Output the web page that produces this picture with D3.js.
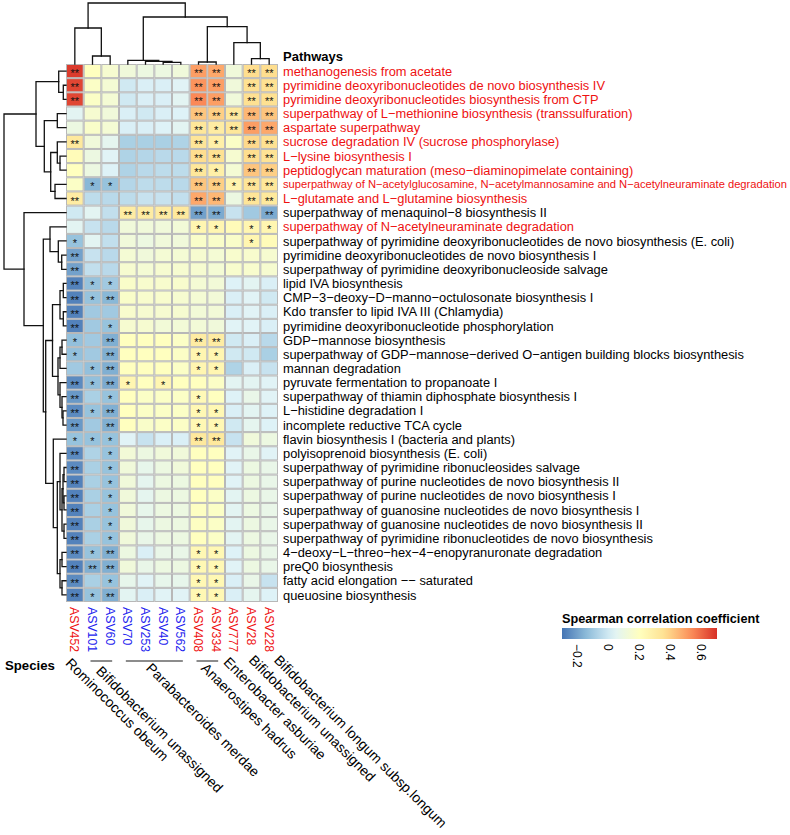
<!DOCTYPE html>
<html><head><meta charset="utf-8">
<script src="https://cdn.jsdelivr.net/npm/d3@7"></script>
<style>body{margin:0;background:#fff} text{font-family:"Liberation Sans",Arial,Helvetica,sans-serif}</style>
</head><body><svg id="chart" width="790" height="835"></svg>
<script>
// ---------------- DATA ----------------
const columns = ["ASV452","ASV101","ASV60","ASV70","ASV253","ASV40","ASV562","ASV408","ASV334","ASV777","ASV28","ASV228"];
const columnPositive = [true,false,false,false,false,false,false,true,true,true,true,true];

const pathways = [
  "methanogenesis from acetate",
  "pyrimidine deoxyribonucleotides de novo biosynthesis IV",
  "pyrimidine deoxyribonucleotides biosynthesis from CTP",
  "superpathway of L\u2212methionine biosynthesis (transsulfuration)",
  "aspartate superpathway",
  "sucrose degradation IV (sucrose phosphorylase)",
  "L\u2212lysine biosynthesis I",
  "peptidoglycan maturation (meso\u2212diaminopimelate containing)",
  "superpathway of N\u2212acetylglucosamine, N\u2212acetylmannosamine and N\u2212acetylneuraminate degradation",
  "L\u2212glutamate and L\u2212glutamine biosynthesis",
  "superpathway of menaquinol\u22128 biosynthesis II",
  "superpathway of N\u2212acetylneuraminate degradation",
  "superpathway of pyrimidine deoxyribonucleotides de novo biosynthesis (E. coli)",
  "pyrimidine deoxyribonucleotides de novo biosynthesis I",
  "superpathway of pyrimidine deoxyribonucleoside salvage",
  "lipid IVA biosynthesis",
  "CMP\u22123\u2212deoxy\u2212D\u2212manno\u2212octulosonate biosynthesis I",
  "Kdo transfer to lipid IVA III (Chlamydia)",
  "pyrimidine deoxyribonucleotide phosphorylation",
  "GDP\u2212mannose biosynthesis",
  "superpathway of GDP\u2212mannose\u2212derived O\u2212antigen building blocks biosynthesis",
  "mannan degradation",
  "pyruvate fermentation to propanoate I",
  "superpathway of thiamin diphosphate biosynthesis I",
  "L\u2212histidine degradation I",
  "incomplete reductive TCA cycle",
  "flavin biosynthesis I (bacteria and plants)",
  "polyisoprenoid biosynthesis (E. coli)",
  "superpathway of pyrimidine ribonucleosides salvage",
  "superpathway of purine nucleotides de novo biosynthesis II",
  "superpathway of purine nucleotides de novo biosynthesis I",
  "superpathway of guanosine nucleotides de novo biosynthesis I",
  "superpathway of guanosine nucleotides de novo biosynthesis II",
  "superpathway of pyrimidine ribonucleotides de novo biosynthesis",
  "4\u2212deoxy\u2212L\u2212threo\u2212hex\u22124\u2212enopyranuronate degradation",
  "preQ0 biosynthesis",
  "fatty acid elongation \u2212\u2212 saturated",
  "queuosine biosynthesis"
];
const pathwayHighlighted = [true,true,true,true,true,true,true,true,true,true,false,true,
  false,false,false,false,false,false,false,false,false,false,false,false,false,false,false,
  false,false,false,false,false,false,false,false,false,false,false];

// Spearman correlation coefficients (rows = pathways, cols = ASVs)
const rho = [
  [0.68,0.20,0.15,0.12,0.10,0.10,0.12,0.50,0.48,0.12,0.37,0.37],
  [0.66,0.18,0.14,0.00,0.02,0.02,0.04,0.52,0.50,0.12,0.36,0.36],
  [0.66,0.18,0.14,0.00,0.02,0.02,0.05,0.54,0.50,0.12,0.36,0.36],
  [0.05,0.15,0.12,0.02,0.00,0.02,0.03,0.42,0.40,0.32,0.45,0.42],
  [0.10,0.17,0.14,0.02,0.02,0.03,0.05,0.33,0.30,0.33,0.50,0.48],
  [0.32,0.12,0.06,-0.08,-0.08,-0.08,-0.07,0.34,0.28,0.18,0.38,0.36],
  [0.22,0.10,0.04,-0.07,-0.06,-0.05,-0.05,0.37,0.36,0.15,0.37,0.35],
  [0.20,0.10,0.03,-0.07,-0.05,-0.04,-0.04,0.33,0.28,0.14,0.42,0.40],
  [0.18,-0.15,-0.12,-0.06,-0.04,-0.04,-0.05,0.42,0.40,0.26,0.34,0.33],
  [0.30,-0.04,-0.05,-0.04,-0.02,-0.02,-0.03,0.48,0.45,0.10,0.34,0.32],
  [0.00,0.05,-0.03,0.30,0.30,0.30,0.32,-0.20,-0.18,-0.02,-0.10,-0.18],
  [0.05,-0.02,-0.05,0.12,0.12,0.12,0.13,0.25,0.25,0.22,0.25,0.25],
  [-0.12,0.05,-0.03,0.12,0.10,0.12,0.12,0.17,0.17,0.17,0.25,0.22],
  [-0.20,-0.02,-0.05,0.14,0.12,0.14,0.14,0.15,0.14,0.16,0.16,0.15],
  [-0.20,-0.03,-0.05,0.15,0.14,0.15,0.15,0.15,0.14,0.16,0.16,0.15],
  [-0.27,-0.12,-0.10,0.17,0.16,0.16,0.16,0.14,0.13,0.03,0.05,0.02],
  [-0.27,-0.12,-0.15,0.17,0.16,0.16,0.15,0.14,0.13,0.02,0.04,0.00],
  [-0.27,-0.10,-0.10,0.16,0.15,0.15,0.15,0.13,0.13,0.02,0.04,0.02],
  [-0.27,-0.10,-0.12,0.15,0.15,0.13,0.13,0.13,0.12,0.04,0.04,0.02],
  [-0.13,-0.10,-0.17,0.20,0.20,0.20,0.18,0.30,0.30,0.00,0.02,-0.05],
  [-0.13,-0.10,-0.17,0.20,0.20,0.20,0.18,0.25,0.25,0.00,0.00,-0.08],
  [-0.10,-0.13,-0.17,0.20,0.20,0.20,0.18,0.25,0.25,-0.07,0.02,-0.02],
  [-0.25,-0.13,-0.18,0.25,0.20,0.25,0.20,0.20,0.18,0.05,0.05,0.04],
  [-0.22,-0.08,-0.12,0.20,0.18,0.18,0.18,0.23,0.20,0.03,0.08,0.04],
  [-0.25,-0.12,-0.17,0.20,0.18,0.18,0.18,0.24,0.24,0.02,0.05,0.03],
  [-0.22,-0.10,-0.17,0.20,0.17,0.18,0.18,0.24,0.24,0.00,0.06,0.03],
  [-0.12,-0.12,-0.12,0.04,-0.02,0.02,0.02,0.32,0.32,-0.02,0.12,0.10],
  [-0.25,-0.07,-0.12,0.13,0.10,0.12,0.12,0.20,0.20,0.04,0.08,0.04],
  [-0.25,-0.08,-0.12,0.12,0.07,0.10,0.12,0.20,0.20,0.04,0.10,0.08],
  [-0.27,-0.08,-0.12,0.12,0.06,0.10,0.10,0.20,0.20,0.04,0.10,0.08],
  [-0.27,-0.08,-0.12,0.12,0.06,0.10,0.10,0.20,0.18,0.05,0.10,0.08],
  [-0.27,-0.08,-0.12,0.12,0.07,0.10,0.10,0.19,0.18,0.05,0.10,0.08],
  [-0.27,-0.08,-0.12,0.12,0.07,0.10,0.10,0.19,0.18,0.05,0.10,0.08],
  [-0.27,-0.08,-0.12,0.12,0.08,0.10,0.10,0.20,0.18,0.05,0.10,0.08],
  [-0.25,-0.12,-0.17,0.10,0.02,0.08,0.08,0.24,0.24,0.03,0.10,0.08],
  [-0.27,-0.17,-0.17,0.12,0.08,0.10,0.10,0.24,0.24,0.04,0.10,0.08],
  [-0.25,-0.08,-0.12,0.07,0.04,0.07,0.07,0.24,0.24,0.02,0.08,-0.02],
  [-0.27,-0.12,-0.17,0.05,0.02,0.04,0.04,0.24,0.24,0.02,0.06,0.03]
];

// significance level: 2 = "**", 1 = "*", 0 = none
const signif = [
  [2,0,0,0,0,0,0,2,2,0,2,2],
  [2,0,0,0,0,0,0,2,2,0,2,2],
  [2,0,0,0,0,0,0,2,2,0,2,2],
  [0,0,0,0,0,0,0,2,2,2,2,2],
  [0,0,0,0,0,0,0,2,1,2,2,2],
  [2,0,0,0,0,0,0,2,1,0,2,2],
  [0,0,0,0,0,0,0,2,2,0,2,2],
  [0,0,0,0,0,0,0,2,1,0,2,2],
  [0,1,1,0,0,0,0,2,2,1,2,2],
  [2,0,0,0,0,0,0,2,2,0,2,2],
  [0,0,0,2,2,2,2,2,2,0,0,2],
  [0,0,0,0,0,0,0,1,1,0,1,1],
  [1,0,0,0,0,0,0,0,0,0,1,0],
  [2,0,0,0,0,0,0,0,0,0,0,0],
  [2,0,0,0,0,0,0,0,0,0,0,0],
  [2,1,1,0,0,0,0,0,0,0,0,0],
  [2,1,2,0,0,0,0,0,0,0,0,0],
  [2,0,0,0,0,0,0,0,0,0,0,0],
  [2,0,1,0,0,0,0,0,0,0,0,0],
  [1,0,2,0,0,0,0,2,2,0,0,0],
  [1,0,2,0,0,0,0,1,1,0,0,0],
  [0,1,2,0,0,0,0,1,1,0,0,0],
  [2,1,2,1,0,1,0,0,0,0,0,0],
  [2,0,1,0,0,0,0,1,0,0,0,0],
  [2,1,2,0,0,0,0,1,1,0,0,0],
  [2,0,2,0,0,0,0,1,1,0,0,0],
  [1,1,1,0,0,0,0,2,2,0,0,0],
  [2,0,1,0,0,0,0,0,0,0,0,0],
  [2,0,1,0,0,0,0,0,0,0,0,0],
  [2,0,1,0,0,0,0,0,0,0,0,0],
  [2,0,1,0,0,0,0,0,0,0,0,0],
  [2,0,1,0,0,0,0,0,0,0,0,0],
  [2,0,1,0,0,0,0,0,0,0,0,0],
  [2,0,1,0,0,0,0,0,0,0,0,0],
  [2,1,2,0,0,0,0,1,1,0,0,0],
  [2,2,2,0,0,0,0,1,1,0,0,0],
  [2,0,1,0,0,0,0,1,1,0,0,0],
  [2,1,2,0,0,0,0,1,1,0,0,0]
];

const species = ["Rominococcus obeum","Bifidobacterium unassigned","Parabacteroides merdae","Anaerostipes hadrus","Enterobacter asburiae","Bifidobacterium unassigned","Bifidobacterium longum subsp.longum"];
const speciesMembers = [["ASV452"],["ASV101","ASV60"],["ASV70","ASV253","ASV40","ASV562"],["ASV408","ASV334"],["ASV777"],["ASV28"],["ASV228"]];

const legendTicks = [-0.2, 0, 0.2, 0.4, 0.6];
const legendTickLabels = ["\u22120.2","0","0.2","0.4","0.6"];
const colorDomain = [-0.3, 0.7];

// dendrograms: leaves are column names / row indices, internal nodes {h: merge height, c: [left, right]}
const colTree = {h:61, c:[
  {h:36, c:["ASV452", {h:8, c:["ASV101","ASV60"]}]},
  {h:47, c:[
    {h:3.7, c:["ASV70", {h:2.7, c:["ASV253", {h:1.7, c:["ASV40","ASV562"]}]}]},
    {h:37.3, c:[
      {h:2, c:["ASV408","ASV334"]},
      {h:21.3, c:["ASV777", {h:5.3, c:["ASV28","ASV228"]}]}
    ]}
  ]}
]};

const rowTree = {h:62, c:[
  {h:30, c:[
    {h:7.3, c:[0, {h:2.7, c:[1,2]}]},
    {h:21.7, c:[
      {h:8.7, c:[3,4]},
      {h:15.3, c:[
        {h:8.7, c:[5, {h:6, c:[6,7]}]},
        {h:11, c:[8,9]}
      ]}
    ]}
  ]},
  {h:42, c:[
    10,
    {h:22.7, c:[
      {h:16, c:[11, {h:7.7, c:[12, {h:4.3, c:[13,14]}]}]},
      {h:20.3, c:[
        {h:13.5, c:[
          {h:6, c:[{h:2.7, c:[15,16]}, {h:2.7, c:[17,18]}]},
          {h:8, c:[
            {h:6, c:[{h:4, c:[19,20]}, 21]},
            {h:6, c:[22, {h:4, c:[23, {h:3, c:[24,25]}]}]}
          ]}
        ]},
        {h:12.7, c:[
          26,
          {h:8.7, c:[
            {h:6, c:[27, {h:4, c:[{h:3, c:[{h:2, c:[28,29]}, {h:2, c:[30,31]}]}, {h:2, c:[32,33]}]}]},
            {h:6, c:[{h:4, c:[34,35]}, {h:4, c:[36,37]}]}
          ]}
        ]}
      ]}
    ]}
  ]}
]};

// ---------------- DRAWING ----------------
const svg = d3.select("#chart");
const FONT = 12.85;

const x = d3.scaleBand().domain(columns).range([66, 278]);
const y = d3.scaleBand().domain(d3.range(pathways.length)).range([64, 602]);

const palette = ["#4575B4","#91BFDB","#E0F3F8","#FFFFBF","#FEE090","#FC8D59","#D73027"];
const color = d3.scaleLinear()
  .domain(d3.range(palette.length).map(i => colorDomain[0] + i*(colorDomain[1]-colorDomain[0])/(palette.length-1)))
  .range(palette).interpolate(d3.interpolateRgb).clamp(true);

// cells
const cells = [];
rho.forEach((row, i) => row.forEach((v, j) => cells.push({i, j, v, s: signif[i][j]})));

svg.append("g").selectAll("rect").data(cells).join("rect")
  .attr("x", d => x(columns[d.j]) + 0.5)
  .attr("y", d => y(d.i) + 0.5)
  .attr("width", x.bandwidth() - 1)
  .attr("height", y.bandwidth() - 1)
  .attr("fill", d => color(d.v))
  .attr("stroke", "#b8b8b8").attr("stroke-width", 1);

svg.append("g").selectAll("text").data(cells.filter(d => d.s > 0)).join("text")
  .attr("x", d => x(columns[d.j]) + x.bandwidth()/2)
  .attr("y", d => y(d.i) + y.bandwidth()/2)
  .attr("dy", "0.55em")
  .attr("text-anchor", "middle")
  .attr("font-size", 11)
  .attr("fill", "#111")
  .text(d => d.s === 2 ? "**" : "*");

// dendrogram helper
function drawTree(root, leafPos, hScale, orient) {
  const g = svg.append("g").attr("fill", "none").attr("stroke", "#111").attr("stroke-width", 1.3)
    .attr("stroke-linecap", "square");
  function rec(n) {
    if (typeof n !== "object") return {p: leafPos(n), h: 0};
    const a = rec(n.c[0]), b = rec(n.c[1]);
    const hp = hScale(n.h);
    const path = orient === "top"
      ? `M${a.p},${hScale(a.h)}V${hp}H${b.p}V${hScale(b.h)}`
      : `M${hScale(a.h)},${a.p}H${hp}V${b.p}H${hScale(b.h)}`;
    g.append("path").attr("d", path);
    return {p: (a.p + b.p)/2, h: n.h};
  }
  rec(root);
}

drawTree(colTree, c => x(c) + x.bandwidth()/2, d3.scaleLinear().domain([0, colTree.h]).range([64, 3]), "top");
drawTree(rowTree, r => y(r) + y.bandwidth()/2, d3.scaleLinear().domain([0, rowTree.h]).range([66, 4]), "left");

// row labels
svg.append("text").attr("x", 283).attr("y", 61).attr("font-size", 13).attr("font-weight", "bold")
  .attr("fill", "#000").text("Pathways");

const rowLabels = svg.append("g").selectAll("text").data(pathways).join("text")
  .attr("x", 283)
  .attr("y", (d, i) => y(i) + y.bandwidth()/2)
  .attr("dy", "0.36em")
  .attr("font-size", FONT)
  .attr("fill", (d, i) => pathwayHighlighted[i] ? "#ee1111" : "#000")
  .text(d => d);
// shrink labels that would not fit in the window
rowLabels.each(function() {
  const w = this.getComputedTextLength();
  const maxW = 504;
  if (w > maxW) d3.select(this).attr("font-size", FONT * maxW / w);
});

// column labels
svg.append("g").selectAll("text").data(columns).join("text")
  .attr("transform", c => `translate(${x(c) + x.bandwidth()/2},607) rotate(90)`)
  .attr("dy", "0.36em")
  .attr("font-size", 12.3)
  .attr("fill", (c, j) => columnPositive[j] ? "#ee1111" : "#2222ee")
  .text(c => c);

// species groups
const labelDx = [-10, -6, -9, -7, -11, -3.5, 4];
const labelY  = [664, 672, 669, 669, 663, 661, 661];
const speciesG = svg.append("g");
speciesMembers.forEach((mem, k) => {
  const x0 = x(mem[0]) + x.bandwidth()/2, x1 = x(mem[mem.length-1]) + x.bandwidth()/2;
  const mid = (x0 + x1)/2;
  if (mem.length > 1) {
    speciesG.append("line").attr("x1", x0 - 2).attr("x2", x1 + 2).attr("y1", 661).attr("y2", 661)
      .attr("stroke", "#8c8c8c").attr("stroke-width", 2);
  }
  speciesG.append("text")
    .attr("transform", `translate(${mid + labelDx[k]},${labelY[k]}) rotate(45)`)
    .attr("font-size", 14)
    .attr("fill", "#000")
    .text(species[k]);
});
svg.append("text").attr("x", 5).attr("y", 670).attr("font-size", 13.2).attr("font-weight", "bold").text("Species");

// legend
const lx = d3.scaleLinear().domain(colorDomain).range([562, 717]);
const grad = svg.append("defs").append("linearGradient").attr("id", "lg");
d3.range(0, 1.0001, 0.05).forEach(t => {
  grad.append("stop").attr("offset", t).attr("stop-color", color(colorDomain[0] + t*(colorDomain[1]-colorDomain[0])));
});
svg.append("text").attr("x", 562).attr("y", 623).attr("font-size", 12.7).attr("font-weight", "bold")
  .text("Spearman correlation coefficient");
svg.append("rect").attr("x", lx(colorDomain[0])).attr("y", 628)
  .attr("width", lx(colorDomain[1]) - lx(colorDomain[0])).attr("height", 11).attr("fill", "url(#lg)");
svg.append("g").selectAll("text").data(legendTicks).join("text")
  .attr("transform", v => `translate(${lx(v)},644) rotate(90)`)
  .attr("dy", "0.36em")
  .attr("font-size", 12)
  .attr("fill", "#000")
  .text((v, i) => legendTickLabels[i]);
</script></body></html>
